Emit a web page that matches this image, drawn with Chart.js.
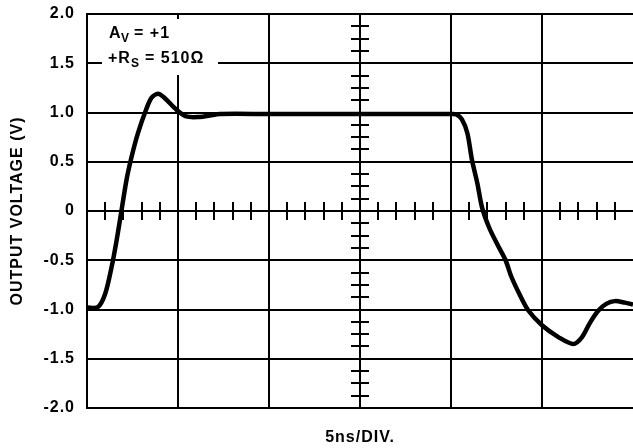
<!DOCTYPE html>
<html lang="en">
<head>
  <meta charset="UTF-8" />
  <title>Output voltage, 5ns/DIV</title>
  <script src="https://cdn.jsdelivr.net/npm/chart.js"></script>
  <style>
    html, body { margin: 0; padding: 0; background: #fff; }
    #wrap { width: 633px; height: 448px; }
  </style>
</head>
<body>
<div id="wrap"><canvas id="scope"></canvas></div>
<script>
// trace: x in divisions (5ns each), y in volts
const xDiv = [0, 0.12, 0.2, 0.27, 0.325, 0.38, 0.435, 0.49, 0.56, 0.65, 0.71, 0.78, 0.85, 0.98, 1.09, 1.24, 1.35, 1.46,
  2.0, 3.0, 4.0, 4.06, 4.12, 4.18, 4.23, 4.29, 4.34, 4.42, 4.51, 4.6, 4.66, 4.75, 4.85, 5.0, 5.18, 5.345, 5.44, 5.53,
  5.62, 5.71, 5.8, 5.91, 6.0];
const vOut = [-0.98, -0.975, -0.84, -0.57, -0.3, 0.01, 0.32, 0.55, 0.79, 1.03, 1.15, 1.19, 1.15, 1.03, 0.96, 0.955, 0.97, 0.985,
  0.985, 0.985, 0.985, 0.98, 0.93, 0.79, 0.52, 0.28, 0.04, -0.17, -0.34, -0.5, -0.66, -0.84, -1.01, -1.16, -1.28, -1.35, -1.28, -1.13,
  -1.01, -0.94, -0.915, -0.93, -0.95];

const yTicks = [-2, -1.5, -1, -0.5, 0, 0.5, 1, 1.5, 2];
const yTickLabels = ['-2.0', '-1.5', '-1.0', '-0.5', '0', '0.5', '1.0', '1.5', '2.0'];
const xMajor = [0, 1, 2, 3, 4, 5];

const FONT = '"Liberation Sans", Arial, sans-serif';

// small cross-hair ticks on the centre lines
const scopeTicks = {
  id: 'scopeTicks',
  beforeDatasetsDraw(chart) {
    const { ctx, scales: { x, y } } = chart;
    ctx.save();
    ctx.strokeStyle = '#000';
    ctx.lineWidth = 2;
    const y0 = Math.round(y.getPixelForValue(0));
    for (let k = 1; k < 30; k++) {
      if (k % 5 === 0) continue;
      const px = Math.round(x.getPixelForValue(k * 0.2));
      ctx.beginPath(); ctx.moveTo(px, y0 - 9); ctx.lineTo(px, y0 + 9); ctx.stroke();
    }
    const xc = Math.round(x.getPixelForValue(3));
    for (let k = -15; k <= 15; k++) {
      if (k % 4 === 0) continue;
      const py = Math.round(y.getPixelForValue(k * 0.125));
      ctx.beginPath(); ctx.moveTo(xc - 9, py); ctx.lineTo(xc + 9, py); ctx.stroke();
    }
    ctx.restore();
  }
};

// boxed condition note, top left
const noteBox = {
  id: 'noteBox',
  beforeDatasetsDraw(chart) {
    const ctx = chart.ctx;
    ctx.save();
    ctx.fillStyle = '#fff';
    ctx.fillRect(102, 19, 116, 56);
    ctx.fillStyle = '#000';
    ctx.textBaseline = 'alphabetic';
    ctx.textAlign = 'left';
    ctx.letterSpacing = '1px';
    const big = 'bold 16px ' + FONT, small = 'bold 12px ' + FONT;
    ctx.font = big;   ctx.fillText('A', 109, 38);
    ctx.font = small; ctx.fillText('V', 121, 42);
    ctx.font = big;   ctx.fillText('= +1', 134, 38);
    ctx.font = big;   ctx.fillText('+R', 108, 63);
    ctx.font = small; ctx.fillText('S', 131, 67);
    ctx.font = big;   ctx.fillText('= 510\u03A9', 145, 63);
    ctx.restore();
  }
};

const spacing = {
  id: 'spacing',
  beforeDraw(chart) { chart.ctx.letterSpacing = '1px'; }
};

new Chart(document.getElementById('scope'), {
  type: 'line',
  data: {
    datasets: [{
      data: xDiv.map((v, i) => ({ x: v, y: vOut[i] })),
      borderColor: '#000',
      borderWidth: 4.5,
      pointRadius: 0,
      tension: 0.3,
      fill: false
    }]
  },
  options: {
    responsive: true,
    maintainAspectRatio: false,
    animation: false,
    layout: { padding: { top: 14, right: 0, bottom: 0, left: 0 } },
    plugins: { legend: { display: false }, tooltip: { enabled: false } },
    scales: {
      x: {
        type: 'linear', min: 0, max: 6,
        afterBuildTicks: s => { s.ticks = xMajor.map(v => ({ value: v })); },
        afterFit: s => { s.height = 40; s.paddingLeft = 0; s.paddingRight = 0; },
        ticks: { display: false },
        grid: { color: '#000', lineWidth: 2, drawTicks: false },
        border: { color: '#000', width: 2 },
        title: {
          display: true, text: '5ns/DIV.', color: '#000',
          font: { family: FONT, size: 16, weight: 'bold' },
          padding: { top: 0, bottom: 1 }
        }
      },
      y: {
        min: -2, max: 2,
        afterBuildTicks: s => { s.ticks = yTicks.map(v => ({ value: v })); },
        afterFit: s => { s.width = 87; s.paddingTop = 0; s.paddingBottom = 0; },
        ticks: {
          color: '#000', padding: 12,
          font: { family: FONT, size: 16, weight: 'bold' },
          callback: v => yTickLabels[yTicks.indexOf(v)]
        },
        grid: { color: '#000', lineWidth: 2, drawTicks: false },
        border: { color: '#000', width: 2 },
        title: {
          display: true, text: 'OUTPUT VOLTAGE (V)', color: '#000',
          font: { family: FONT, size: 16, weight: 'bold' },
          padding: { top: 8, bottom: 0 }
        }
      }
    }
  },
  plugins: [spacing, scopeTicks, noteBox]
});
</script>
</body>
</html>
